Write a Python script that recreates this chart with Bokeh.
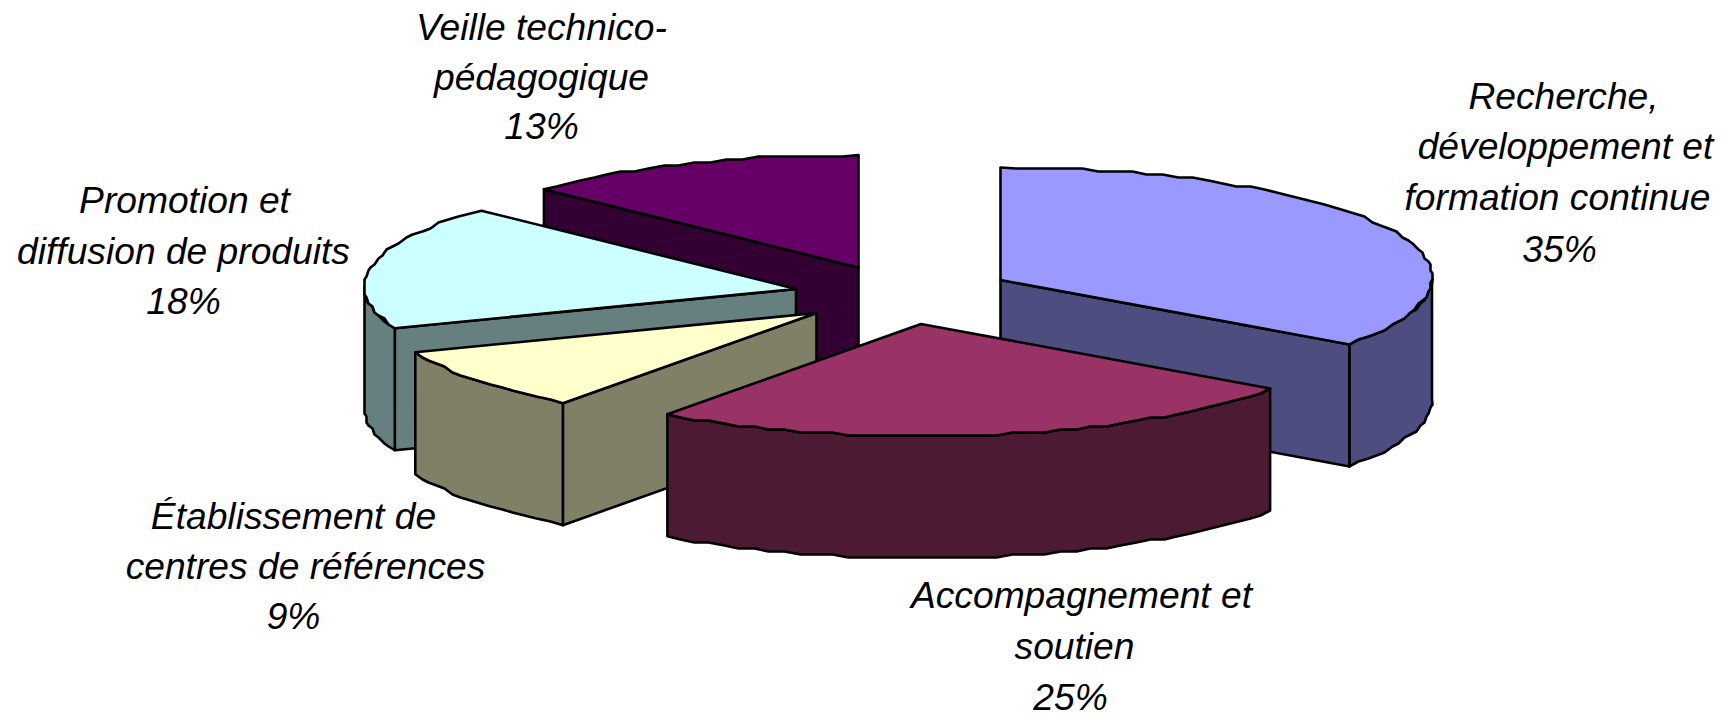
import numpy as np
from bokeh.plotting import figure
from bokeh.models import Range1d
from bokeh.core.properties import value
from bokeh.embed import file_html
from bokeh.resources import INLINE

categories = ["Recherche, développement et formation continue", "Accompagnement et soutien",
              "Établissement de centres de références", "Promotion et diffusion de produits",
              "Veille technico-pédagogique"]
values = [35, 25, 9, 18, 13]
top_colors = ["#9999FF", "#993366", "#FFFFCC", "#CCFFFF", "#660066"]
side_colors = ["#4D4D80", "#4D1A33", "#808066", "#668080", "#330033"]
label_lines = [
    ["Recherche,", "développement et", "formation continue", "35%"],
    ["Accompagnement et", "soutien", "25%"],
    ["Établissement de", "centres de références", "9%"],
    ["Promotion et", "diffusion de produits", "18%"],
    ["Veille technico-", "pédagogique", "13%"],
]

# layout (page pixels of the picture)
apex_x = [1000, 920.5, 816, 795.5, 858]
apex_y = [279.5, 323.5, 312.5, 288.5, 267]
RX, RY, DEPTH, SAG = 431.5, 112.5, 122, 2.5
GRID_X, GRID_Y = 2.0, 3.0
label_x = [[1563, 1565, 1557, 1559], [1081, 1074, 1070], [293, 305, 293], [184, 183, 183], [541, 541, 541]]
label_y = [[95.5, 145.5, 196.5, 248.5], [594.5, 645.5, 696.5], [515.5, 565.5, 615.5], [199.5, 250.5, 300.5], [26, 76, 125.5]]
FONT_PX = 37.2


def rim(cx, cy, deg):
    t = np.radians(deg)
    return cx + RX * np.sin(t), cy - RY * np.cos(t) - SAG * np.sin(t) ** 2


def arc(cx, cy, a0, a1):
    n = max(2, int(round((a1 - a0) / 2.2)) + 1)
    xs, ys = rim(cx, cy, np.linspace(a0, a1, n))
    # the outline of the original is visibly stepped: snap inner points to a coarse grid
    qx = np.round(xs / GRID_X) * GRID_X
    qy = np.round(ys / GRID_Y) * GRID_Y
    qx[0], qy[0], qx[-1], qy[-1] = xs[0], ys[0], xs[-1], ys[-1]
    return qx, qy


p = figure(width=1732, height=713, x_range=Range1d(0, 1732), y_range=Range1d(713, 0),
           output_backend="svg", toolbar_location=None, min_border=0,
           outline_line_color=None, background_fill_color="white", border_fill_color="white")
p.axis.visible = False
p.grid.visible = False

total = sum(values)
edges = np.concatenate([[0], np.cumsum(values)]) / total * 360.0
LW = 2.6


def poly(xs, ys, color):
    p.patch(list(xs), list(ys), fill_color=color, line_color="black", line_width=LW, line_join="round")


for i in [4, 3, 2, 0, 1]:
    a0, a1 = edges[i], edges[i + 1]
    cx, cy = apex_x[i], apex_y[i]
    side = side_colors[i]
    for a, visible in ((a0, 180 < a0 < 360), (a1, 0 < a1 < 180)):
        if visible:
            ex, ey = rim(cx, cy, a)
            poly([cx, ex, ex, cx], [cy, ey, ey + DEPTH, cy + DEPTH], side)
    lo, hi = max(a0, 90), min(a1, 270)
    if hi > lo:
        ax, ay = arc(cx, cy, lo, hi)
        poly(np.concatenate([ax, ax[::-1]]), np.concatenate([ay, ay[::-1] + DEPTH]), side)
    ax, ay = arc(cx, cy, a0, a1)
    poly(np.concatenate([[cx], ax]), np.concatenate([[cy], ay]), top_colors[i])

for lines, xs, ys in zip(label_lines, label_x, label_y):
    p.text(xs, ys, text=lines, text_font=value("Liberation Sans"), text_font_style="italic",
           text_font_size=f"{FONT_PX}px", text_color="black", text_align="center", text_baseline="middle")

open("out.html", "w").write(file_html(p, INLINE))
